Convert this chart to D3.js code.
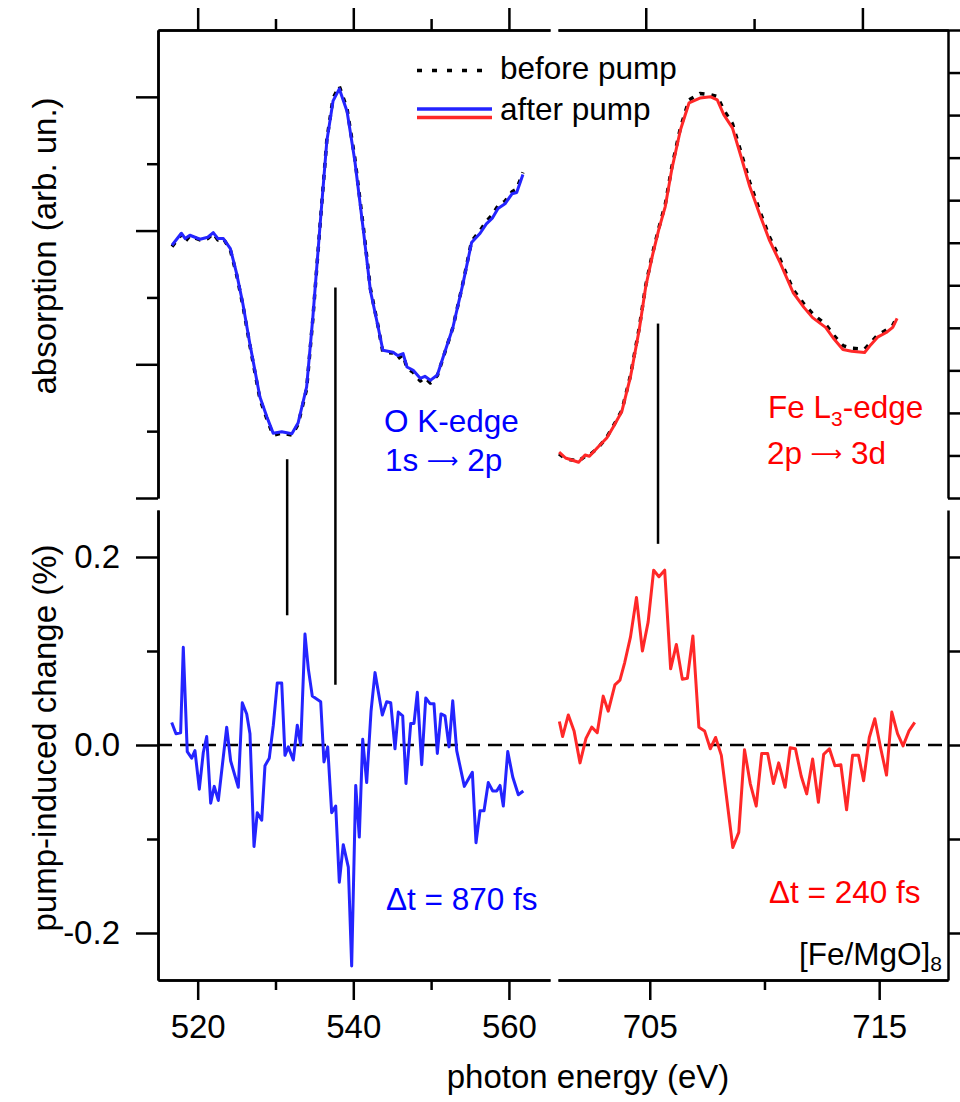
<!DOCTYPE html>
<html lang="en">
<head>
    <meta charset="UTF-8">
    <title>[Fe/MgO]8 pump-probe XAS</title>
    <script src="https://cdn.jsdelivr.net/npm/d3@7"></script>
    <style>
        body { margin: 0; background: #fff; }
        svg { display: block; }
        text { font-family: "Liberation Sans", Arial, sans-serif; }
    </style>
</head>
<body>
    <svg id="chart" width="960" height="1102"></svg>
    <script>
        // O K-edge absorption (left panel, top)
        const oAbsE = [516.7, 517.9, 518.4, 519.0, 520.3, 521.3, 522.0, 522.6, 523.3, 524.2,
            525.0, 525.8, 526.7, 528.0, 528.9, 529.7, 530.8, 532.1, 532.9, 534.0,
            534.8, 535.7, 536.6, 537.4, 538.2, 539.2, 540.2, 541.3, 542.2, 543.2,
            543.8, 545.1, 545.7, 546.4, 546.9, 547.7, 548.6, 549.2, 549.9, 550.8,
            551.5, 552.8, 554.1, 555.2, 556.3, 557.1, 557.9, 558.6, 559.5, 560.4,
            561.0, 561.8];
        const oAbsAfter = [0.378, 0.396, 0.388, 0.393, 0.387, 0.390, 0.397, 0.388, 0.388, 0.373,
            0.336, 0.291, 0.231, 0.151, 0.121, 0.097, 0.099, 0.096, 0.112, 0.166,
            0.270, 0.404, 0.534, 0.594, 0.612, 0.578, 0.504, 0.400, 0.310, 0.255,
            0.221, 0.218, 0.213, 0.216, 0.196, 0.191, 0.179, 0.182, 0.176, 0.184,
            0.209, 0.255, 0.321, 0.382, 0.396, 0.410, 0.419, 0.433, 0.440, 0.455,
            0.457, 0.484];
        const oAbsBefore = [0.376, 0.394, 0.384, 0.392, 0.386, 0.388, 0.396, 0.386, 0.388, 0.371,
            0.334, 0.289, 0.229, 0.148, 0.118, 0.094, 0.097, 0.094, 0.110, 0.163,
            0.268, 0.404, 0.536, 0.598, 0.616, 0.582, 0.508, 0.404, 0.313, 0.256,
            0.218, 0.217, 0.208, 0.214, 0.194, 0.188, 0.175, 0.180, 0.172, 0.183,
            0.208, 0.255, 0.322, 0.384, 0.400, 0.414, 0.424, 0.437, 0.444, 0.458,
            0.462, 0.487];

        // Fe L3-edge absorption (right panel, top)
        const feAbsE = [701.0, 701.3, 701.9, 702.2, 702.4, 702.8, 703.2, 703.5, 703.9, 704.3,
            704.7, 705.0, 705.3, 705.6, 705.9, 706.2, 706.6, 707.0, 707.5, 708.0,
            708.3, 708.6, 709.0, 709.4, 709.8, 710.3, 710.7, 711.2, 711.8, 712.3,
            712.7, 713.3, 713.7, 714.1, 714.5, 715.1, 715.4, 715.7, 716.1, 716.4,
            716.6];
        const feAbsAfter = [0.108, 0.094, 0.084, 0.101, 0.098, 0.120, 0.141, 0.167, 0.204, 0.286,
            0.396, 0.497, 0.568, 0.631, 0.685, 0.772, 0.865, 0.929, 0.940, 0.943,
            0.936, 0.901, 0.870, 0.802, 0.732, 0.661, 0.607, 0.553, 0.483, 0.448,
            0.424, 0.401, 0.373, 0.349, 0.345, 0.342, 0.361, 0.378, 0.389, 0.401,
            0.422];
        const feAbsBefore = [0.104, 0.092, 0.087, 0.098, 0.101, 0.118, 0.143, 0.169, 0.206, 0.289,
            0.400, 0.500, 0.572, 0.634, 0.690, 0.777, 0.870, 0.936, 0.951, 0.948,
            0.944, 0.912, 0.880, 0.812, 0.742, 0.669, 0.615, 0.561, 0.490, 0.456,
            0.433, 0.408, 0.381, 0.358, 0.352, 0.350, 0.366, 0.383, 0.395, 0.406,
            0.425];

        // pump-induced change (%), O K-edge, dt = 870 fs
        const oDiffE = [516.66, 517.21, 517.81, 518.15, 518.66, 519.23, 519.65, 520.21, 520.72, 521.16,
            521.67, 522.13, 522.65, 523.73, 524.24, 525.22, 525.73, 526.30, 526.72, 527.24,
            527.66, 528.23, 528.65, 529.20, 529.72, 530.23, 530.80, 531.22, 531.65, 532.29,
            532.80, 533.24, 533.79, 534.22, 534.73, 535.81, 536.23, 536.71, 537.22, 537.74,
            538.20, 538.71, 539.36, 539.79, 540.31, 540.77, 541.21, 541.72, 542.28, 542.79,
            543.73, 544.29, 544.81, 545.36, 545.78, 546.35, 546.77, 547.38, 547.80, 548.23,
            548.79, 549.31, 549.86, 550.37, 550.80, 551.27, 551.79, 552.30, 552.78, 553.29,
            554.27, 555.30, 555.77, 556.29, 556.80, 557.35, 557.92, 558.43, 558.86, 559.28,
            559.85, 560.49, 561.21, 561.85];
        const oDiff = [0.024, 0.012, 0.013, 0.104, -0.007, -0.014, -0.006, -0.047, -0.008, 0.009,
            -0.062, -0.044, -0.059, 0.019, -0.017, -0.045, 0.045, 0.033, 0.012, -0.108,
            -0.072, -0.080, -0.022, -0.014, 0.021, 0.066, 0.066, -0.011, -0.002, -0.016,
            0.021, 0.000, 0.118, 0.081, 0.052, 0.046, -0.018, -0.002, -0.072, -0.065,
            -0.146, -0.106, -0.130, -0.235, -0.043, -0.098, 0.006, -0.040, 0.036, 0.077,
            0.032, 0.046, 0.045, -0.004, 0.035, 0.031, -0.041, 0.023, 0.023, 0.056,
            -0.021, 0.050, 0.044, 0.044, -0.009, 0.033, 0.031, -0.002, 0.047, -0.006,
            -0.044, -0.029, -0.104, -0.070, -0.070, -0.040, -0.049, -0.049, -0.043, -0.065,
            -0.007, -0.034, -0.053, -0.049];

        // pump-induced change (%), Fe L3-edge, dt = 240 fs
        const feDiffE = [701.06, 701.20, 701.45, 701.70, 701.96, 702.22, 702.47, 702.71, 702.97, 703.19,
            703.48, 703.70, 703.91, 704.16, 704.42, 704.68, 704.93, 705.17, 705.40, 705.65,
            705.91, 706.16, 706.42, 706.64, 706.88, 707.14, 707.39, 707.64, 707.87, 708.12,
            708.62, 708.88, 709.13, 709.38, 709.64, 709.88, 710.14, 710.39, 710.62, 710.90,
            711.12, 711.35, 711.60, 711.84, 712.10, 712.35, 712.58, 712.83, 713.07, 713.33,
            713.58, 713.84, 714.10, 714.32, 714.57, 714.81, 715.07, 715.32, 715.55, 715.80,
            716.04, 716.30, 716.55];
        const feDiff = [0.025, 0.009, 0.032, 0.015, -0.019, 0.007, 0.019, 0.013, 0.052, 0.036,
            0.064, 0.069, 0.088, 0.115, 0.157, 0.100, 0.131, 0.186, 0.179, 0.186,
            0.081, 0.107, 0.070, 0.071, 0.116, 0.019, 0.015, -0.004, 0.008, -0.011,
            -0.109, -0.093, -0.005, -0.041, -0.065, -0.009, -0.009, -0.041, -0.019, -0.045,
            -0.003, -0.004, -0.033, -0.052, -0.015, -0.061, -0.010, -0.004, -0.022, -0.021,
            -0.069, -0.011, -0.011, -0.038, 0.008, 0.028, -0.004, -0.032, 0.035, 0.012,
            -0.001, 0.015, 0.024];

        // vertical guide lines: energy, top end (absorption units), bottom end (change units)
        const markerE = [531.5, 537.7, 705.36];
        const markerAbs = [0.058, 0.315, 0.41];
        const markerDiff = [0.138, 0.064, 0.214];

        // ticks
        const oTicksMajor = [520, 540, 560];
        const oTicksMinor = [530, 550];
        const feTicksMajor = [705, 715];
        const feTicksMinor = [710];
        const absOTicksMajor = [0, 0.2, 0.4, 0.6];
        const absOTicksMinor = [0.1, 0.3, 0.5];
        const absFeTicks = [0, 0.1, 0.2, 0.3, 0.4, 0.5, 0.6, 0.7, 0.8, 0.9, 1.0, 1.1];
        const diffTicksMajor = [-0.2, 0, 0.2];
        const diffTicksMinor = [-0.1, 0.1];

        const blue = "#2424ff", red = "#ff2828";
        const axisFont = 33;   // tick labels and axis titles
        const noteFont = 31.5; // legend and annotations

        const svg = d3.select("#chart");

        const xO = d3.scaleLinear().domain([514.9, 565.28]).range([158, 550]);
        const xFeTop = d3.scaleLinear().domain([700.95, 718.95]).range([558, 948]);
        const xFeBot = d3.scaleLinear().domain([701, 718]).range([558, 948]);
        const yAbsO = d3.scaleLinear().domain([0, 0.7]).range([498, 30]);
        const yAbsFe = d3.scaleLinear().domain([0, 1.1]).range([498, 30]);
        const yDiff = d3.scaleLinear().domain([-0.25, 0.25]).range([980, 510]);

        function drawAxis(axis, tx, ty) {
            const g = svg.append("g")
                .attr("transform", `translate(${tx},${ty})`)
                .call(axis);
            g.selectAll("path, line").attr("stroke", "#000").attr("stroke-width", 2.5);
            g.selectAll("text")
                .attr("fill", "#000")
                .style("font-size", axisFont + "px")
                .style("font-family", '"Liberation Sans", Arial, sans-serif');
            return g;
        }

        // left axes
        drawAxis(d3.axisLeft(yAbsO).tickValues(absOTicksMajor).tickSize(22).tickSizeOuter(0).tickFormat(""), 158, 0);
        drawAxis(d3.axisLeft(yAbsO).tickValues(absOTicksMinor).tickSize(11).tickSizeOuter(0).tickFormat(""), 158, 0);
        drawAxis(d3.axisLeft(yDiff).tickValues(diffTicksMajor).tickSize(22).tickSizeOuter(0)
            .tickPadding(16).tickFormat(d => d.toFixed(1)), 158, 0);
        drawAxis(d3.axisLeft(yDiff).tickValues(diffTicksMinor).tickSize(11).tickSizeOuter(0).tickFormat(""), 158, 0);

        // right axes
        drawAxis(d3.axisRight(yAbsFe).tickValues(absFeTicks).tickSize(12).tickSizeOuter(0).tickFormat(""), 948, 0);
        drawAxis(d3.axisRight(yDiff).tickValues(diffTicksMajor.concat(diffTicksMinor)).tickSize(12).tickSizeOuter(0).tickFormat(""), 948, 0);

        // bottom axes
        drawAxis(d3.axisBottom(xO).tickValues(oTicksMajor).tickSize(20).tickSizeOuter(0).tickPadding(15), 0, 980);
        drawAxis(d3.axisBottom(xO).tickValues(oTicksMinor).tickSize(10).tickSizeOuter(0).tickFormat(""), 0, 980);
        drawAxis(d3.axisBottom(xFeBot).tickValues(feTicksMajor).tickSize(20).tickSizeOuter(0).tickPadding(15), 0, 980);
        drawAxis(d3.axisBottom(xFeBot).tickValues(feTicksMinor).tickSize(10).tickSizeOuter(0).tickFormat(""), 0, 980);

        // top axes
        drawAxis(d3.axisTop(xO).tickValues(oTicksMajor).tickSize(22).tickSizeOuter(0).tickFormat(""), 0, 30);
        drawAxis(d3.axisTop(xO).tickValues(oTicksMinor).tickSize(11).tickSizeOuter(0).tickFormat(""), 0, 30);
        drawAxis(d3.axisTop(xFeTop).tickValues(feTicksMajor).tickSize(22).tickSizeOuter(0).tickFormat(""), 0, 30);
        drawAxis(d3.axisTop(xFeTop).tickValues(feTicksMinor).tickSize(11).tickSizeOuter(0).tickFormat(""), 0, 30);

        // zero line across both bottom panels
        svg.append("line")
            .attr("x1", xO.range()[0]).attr("x2", xFeBot.range()[1])
            .attr("y1", yDiff(0)).attr("y2", yDiff(0))
            .attr("stroke", "#000").attr("stroke-width", 2.5)
            .attr("stroke-dasharray", "14,8");

        // guide lines
        markerE.forEach((e, i) => {
            const isO = e < 600;
            const x = isO ? xO(e) : xFeBot(e);
            const yTop = isO ? yAbsO(markerAbs[i]) : yAbsFe(markerAbs[i]);
            svg.append("line")
                .attr("x1", x).attr("x2", x)
                .attr("y1", yTop).attr("y2", yDiff(markerDiff[i]))
                .attr("stroke", "#000").attr("stroke-width", 2.5);
        });

        function series(xs, ys, xScale, yScale) {
            return d3.line().x((d, i) => xScale(xs[i])).y(d => yScale(d))(ys);
        }

        function drawLine(d, color, dash, width) {
            svg.append("path")
                .attr("d", d)
                .attr("fill", "none")
                .attr("stroke", color)
                .attr("stroke-width", width)
                .attr("stroke-linejoin", "round")
                .attr("stroke-dasharray", dash);
        }

        drawLine(series(oAbsE, oAbsBefore, xO, yAbsO), "#000", "5,7", 3.5);
        drawLine(series(oAbsE, oAbsAfter, xO, yAbsO), blue, null, 3);
        drawLine(series(feAbsE, feAbsBefore, xFeTop, yAbsFe), "#000", "5,7", 3.5);
        drawLine(series(feAbsE, feAbsAfter, xFeTop, yAbsFe), red, null, 3);
        drawLine(series(oDiffE, oDiff, xO, yDiff), blue, null, 3);
        drawLine(series(feDiffE, feDiff, xFeBot, yDiff), red, null, 3);

        // legend
        const legend = svg.append("g");
        legend.append("line").attr("x1", 417).attr("x2", 492).attr("y1", 70.5).attr("y2", 70.5)
            .attr("stroke", "#000").attr("stroke-width", 3.5).attr("stroke-dasharray", "5,10");
        legend.append("line").attr("x1", 417).attr("x2", 492).attr("y1", 109).attr("y2", 109)
            .attr("stroke", blue).attr("stroke-width", 3.5);
        legend.append("line").attr("x1", 417).attr("x2", 492).attr("y1", 117.5).attr("y2", 117.5)
            .attr("stroke", red).attr("stroke-width", 3.5);
        legend.append("text").attr("x", 500).attr("y", 79).style("font-size", noteFont + "px").text("before pump");
        legend.append("text").attr("x", 500).attr("y", 120).style("font-size", noteFont + "px").text("after pump");

        // annotations
        function label(x, y, color, str, anchor) {
            return svg.append("text").attr("x", x).attr("y", y)
                .attr("fill", color).attr("text-anchor", anchor || "start")
                .style("font-size", noteFont + "px").text(str);
        }
        // "a -> b" with a long thin arrow
        function transition(x, y, color, from, to) {
            const t = label(x, y, color, from + " ");
            t.append("tspan").attr("dy", -3).style("font-size", "22px")
                .style("font-family", '"DejaVu Sans", sans-serif').text("\u27F6");
            t.append("tspan").attr("dy", 3).text(" " + to);
            return t;
        }
        label(384, 432, "#0000ff", "O K-edge");
        transition(385, 471, "#0000ff", "1s", "2p");
        const fe = label(768, 418, "#ff0000", "Fe L");
        fe.append("tspan").attr("dy", 8).style("font-size", "21px").text("3");
        fe.append("tspan").attr("dy", -8).text("-edge");
        transition(767, 464, "#ff0000", "2p", "3d");
        label(386, 910, "#0000ff", "\u0394t = 870 fs");
        label(769, 903, "#ff0000", "\u0394t = 240 fs");
        const sample = label(942, 965, "#000", "[Fe/MgO]", "end");
        sample.append("tspan").attr("dy", 6).style("font-size", "21px").text("8");

        // axis titles
        svg.append("text")
            .attr("transform", "translate(56,246) rotate(-90)")
            .attr("text-anchor", "middle").style("font-size", axisFont + "px")
            .text("absorption (arb. un.)");
        svg.append("text")
            .attr("transform", "translate(56,738) rotate(-90)")
            .attr("text-anchor", "middle").style("font-size", axisFont + "px")
            .text("pump-induced change (%)");
        svg.append("text")
            .attr("x", 588).attr("y", 1088)
            .attr("text-anchor", "middle").style("font-size", axisFont + "px")
            .text("photon energy (eV)");
    </script>
</body>
</html>
